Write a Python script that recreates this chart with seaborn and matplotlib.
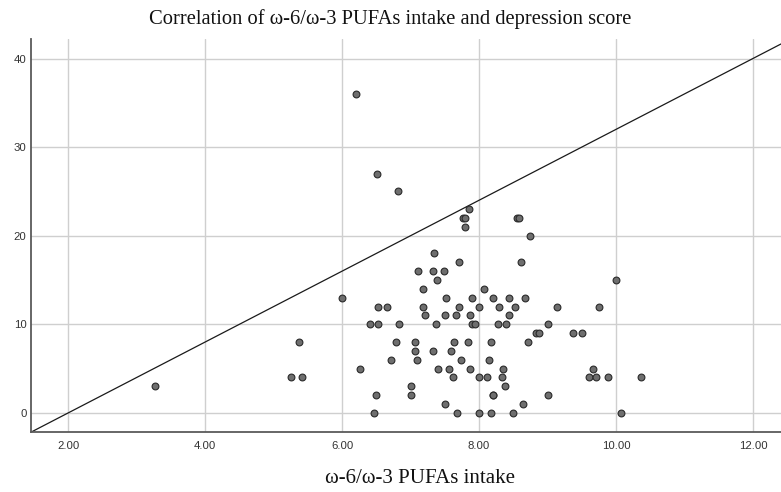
import pandas as pd
import numpy as np
import matplotlib
matplotlib.use("Agg")
import matplotlib.pyplot as plt
import seaborn as sns

# omega-6/omega-3 ratio (x) and depression score (y)
ratio = [
    6.20,
    6.51,
    6.82,
    7.85,
    7.76, 7.79, 8.55, 8.59,
    7.79,
    8.75,
    7.34,
    7.71, 8.61,
    7.11, 7.33, 7.49,
    7.38, 10.00,
    7.18, 8.07,
    6.00, 7.51, 7.90, 8.20, 8.43, 8.67,
    6.53, 6.65, 7.18, 7.70, 8.00, 8.29, 8.52, 9.14, 9.75,
    7.21, 7.50, 7.66, 7.86, 8.43,
    6.40, 6.53, 6.83, 7.37, 7.89, 7.94, 8.28, 8.40, 9.00,
    8.83, 8.87, 9.37, 9.50,
    5.37, 6.79, 7.07, 7.63, 7.84, 8.17, 8.72,
    7.06, 7.33, 7.59,
    6.71, 7.09, 7.74, 8.14,
    6.26, 7.40, 7.56, 7.87, 8.35, 9.67,
    5.25, 5.41, 7.62, 8.00, 8.11, 8.33, 9.60, 9.71, 9.88, 10.36,
    3.27, 7.00, 8.38,
    6.50, 7.00, 8.20, 8.20, 9.00,
    7.50, 8.64,
    6.46, 7.67, 8.00, 8.17, 8.50, 10.07,
]
score = (
    [36] + [27] + [25] + [23] + [22] * 4 + [21] + [20] + [18] + [17] * 2
    + [16] * 3 + [15] * 2 + [14] * 2 + [13] * 6 + [12] * 9 + [11] * 5
    + [10] * 9 + [9] * 4 + [8] * 7 + [7] * 3 + [6] * 4 + [5] * 6
    + [4] * 10 + [3] * 3 + [2] * 5 + [1] * 2 + [0] * 6
)

# reference line shown on the chart: y = slope * x + intercept
line_slope = 4.0
line_intercept = -8.0

x_ticks = [2, 4, 6, 8, 10, 12]
y_ticks = [0, 10, 20, 30, 40]

df = pd.DataFrame({"ratio": ratio, "score": score})

sns.set_style("white")
plt.rcParams["font.family"] = ["Liberation Sans", "DejaVu Sans"]

fig = plt.figure(figsize=(7.81, 4.92), dpi=100)
ax = fig.add_axes([0.0393, 0.1213, 0.9607, 0.7994])

ax.grid(True, color="#cfcfcf", linewidth=1.0, zorder=0)
ax.set_axisbelow(True)

ax.axline((0, line_intercept), slope=line_slope, color="#1a1a1a", linewidth=0.9, zorder=2)

sns.scatterplot(data=df, x="ratio", y="score", ax=ax, s=24, color="#6e6e6e",
                edgecolor="#2a2a2a", linewidth=0.8, zorder=3)

ax.set_xlim(1.45, 12.41)
ax.set_ylim(-2.2, 42.2)
ax.set_xticks(x_ticks)
ax.set_xticklabels([f"{v:.2f}" for v in x_ticks])
ax.set_yticks(y_ticks)
ax.tick_params(length=0, labelsize=8.2, colors="#333333")
ax.tick_params(axis="y", pad=3)
ax.tick_params(axis="x", pad=6)

for side in ["top", "right"]:
    ax.spines[side].set_visible(False)
for side in ["left", "bottom"]:
    ax.spines[side].set_color("#5a5a5a")
    ax.spines[side].set_linewidth(1.3)

ax.set_xlabel("")
ax.set_ylabel("")

serif = ["Liberation Serif", "DejaVu Serif"]
fig.text(0.5, 0.962, "Correlation of ω-6/ω-3 PUFAs intake and depression score",
         ha="center", va="center", fontsize=14.8, family=serif, color="#111111")
fig.text(0.538, 0.028, "ω-6/ω-3 PUFAs intake", ha="center", va="center",
         fontsize=15, family=serif, color="#111111")

fig.savefig("out.png", dpi=100)
